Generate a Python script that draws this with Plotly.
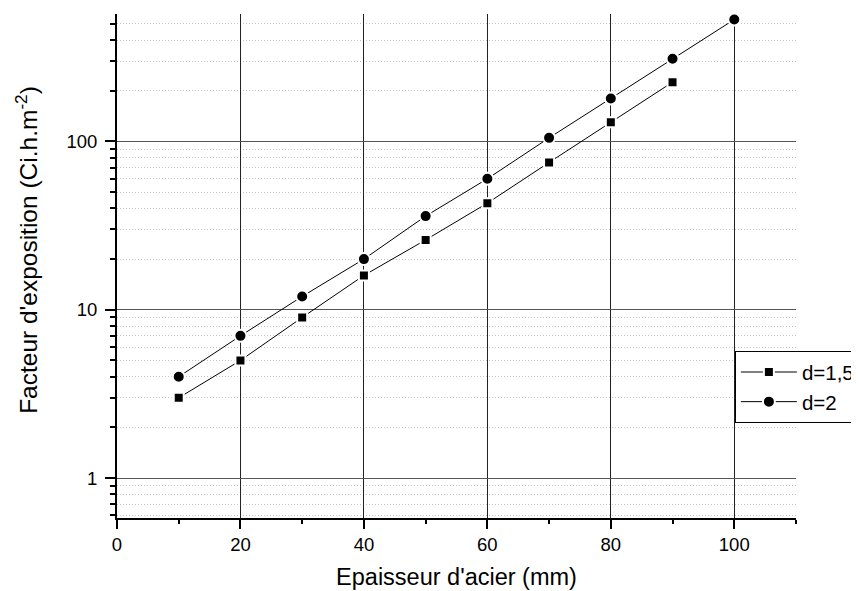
import plotly.graph_objects as go

thickness = [10, 20, 30, 40, 50, 60, 70, 80, 90, 100]
d15_values = [3, 5, 9, 16, 26, 43, 75, 130, 225]
d2_values = [4, 7, 12, 20, 36, 60, 105, 180, 310, 530]
series_names = ["d=1,5", "d=2"]
x_ticks = [0, 20, 40, 60, 80, 100]
x_ticklabels = ["0", "20", "40", "60", "80", "100"]
y_ticks = [1, 10, 100]
y_ticklabels = ["1", "10", "100"]
y_minor = [0.6, 0.7, 0.8, 0.9, 2, 3, 4, 5, 6, 7, 8, 9,
           20, 30, 40, 50, 60, 70, 80, 90, 200, 300, 400, 500]
x_minor = [10, 30, 50, 70, 90, 110]
x_title = "Epaisseur d'acier (mm)"
y_title = "Facteur d'exposition (Ci.h.m<sup>-2</sup>)"

FONT = "Liberation Sans, Arial, sans-serif"

fig = go.Figure()
fig.add_trace(go.Scatter(
    x=thickness[:len(d15_values)], y=d15_values, name=series_names[0],
    mode="lines+markers",
    line=dict(color="black", width=1),
    marker=dict(symbol="square", size=10, color="black",
                line=dict(color="white", width=2)),
))
fig.add_trace(go.Scatter(
    x=thickness[:len(d2_values)], y=d2_values, name=series_names[1],
    mode="lines+markers",
    line=dict(color="black", width=1),
    marker=dict(symbol="circle", size=12, color="black",
                line=dict(color="white", width=2)),
))

fig.update_layout(
    width=851, height=583,
    margin=dict(l=109, r=63, t=6, b=73, autoexpand=False),
    paper_bgcolor="white", plot_bgcolor="white",
    font=dict(family=FONT, size=18.5, color="black"),
    showlegend=True,
    legend=dict(
        x=0.910, y=0.331, xanchor="left", yanchor="top",
        xref="paper", yref="paper",
        bordercolor="black", borderwidth=1, bgcolor="white",
        font=dict(family=FONT, size=20.5, color="black"),
        itemwidth=56, tracegroupgap=0,
    ),
    xaxis=dict(
        range=[0, 110], tickvals=x_ticks, ticktext=x_ticklabels,
        showline=True, linecolor="black", linewidth=2,
        ticks="outside", ticklen=9, tickwidth=2, tickcolor="black",
        showgrid=True, gridcolor="#222222", gridwidth=1,
        zeroline=False,
        minor=dict(tickvals=x_minor, ticks="outside", ticklen=4,
                   tickwidth=2, tickcolor="black", showgrid=False),
        title=dict(text=x_title, font=dict(size=23.5), standoff=14),
        tickfont=dict(size=18.5),
    ),
    yaxis=dict(
        type="log", range=[-0.237, 2.757],
        tickvals=y_ticks, ticktext=y_ticklabels,
        showline=True, linecolor="black", linewidth=2,
        ticks="outside", ticklen=10, tickwidth=2, tickcolor="black",
        ticklabelstandoff=4,
        showgrid=True, gridcolor="#555555", gridwidth=1.3,
        zeroline=False,
        minor=dict(tickvals=y_minor, ticks="outside", ticklen=5,
                   tickwidth=2, tickcolor="black", showgrid=True,
                   gridcolor="#c4c4c4", griddash="1px,2px", gridwidth=1),
        tickfont=dict(size=18.5),
    ),
    annotations=[dict(
        text=y_title, textangle=-90, showarrow=False,
        xref="paper", yref="paper", x=0, y=0.532,
        xanchor="center", yanchor="middle", xshift=-90,
        font=dict(family=FONT, size=24.5, color="black"),
    )],
)

fig.write_html("out.html")
